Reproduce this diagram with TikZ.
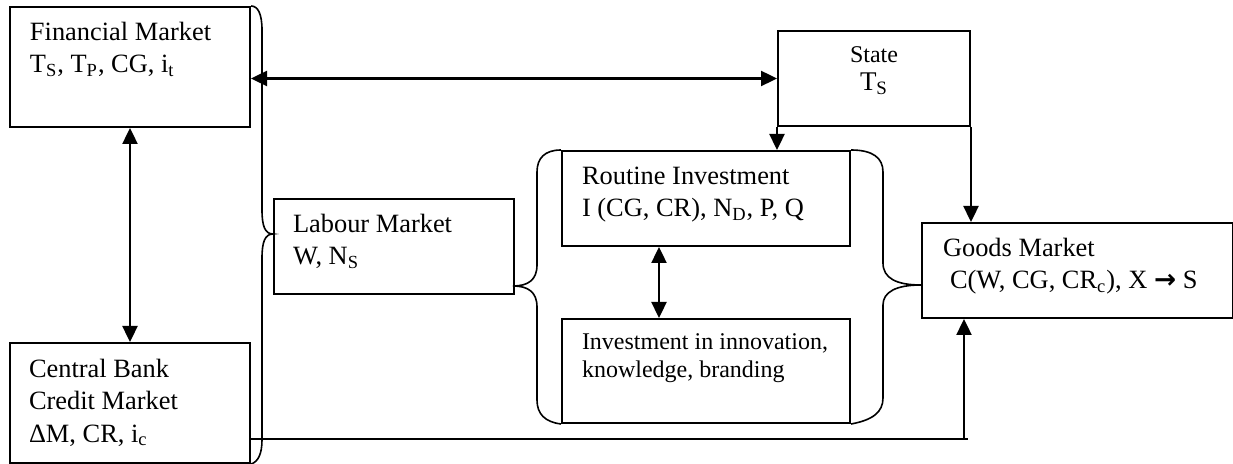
\documentclass[tikz,border=0pt]{standalone}
\usepackage{fontspec}
\setmainfont{Liberation Serif}
\newfontfamily\arrowfont{DejaVu Sans}
\usetikzlibrary{positioning,arrows.meta}

\newcommand{\bigfont}{\fontsize{13.2}{16.25}\selectfont}
\newcommand{\smallfont}{\fontsize{12}{14}\selectfont}

\tikzset{
	box/.style={draw, line width=1pt, inner sep=0pt, anchor=north west},
	txt/.style={inner sep=0pt, outer sep=0pt, align=left, font=\bigfont},
	arr/.style={line width=1.2pt, -{Triangle[length=8pt,width=7.5pt]}},
	dblarr/.style={line width=1.2pt, {Triangle[length=8pt,width=7.5pt]}-{Triangle[length=8pt,width=7.5pt]}},
	brace/.style={line width=0.8pt},
}

\begin{document}
\begin{tikzpicture}[x=0.5pt,y=-0.5pt]
	\useasboundingbox (0,0) rectangle (1233,464);
	% boxes
	\node[box, minimum width=120pt, minimum height=60pt] (fin) at (9,6) {};
	\node[box, minimum width=120pt, minimum height=60pt] (cb) at (9,342) {};
	\node[box, minimum width=120pt, minimum height=47.5pt] (lab) at (273,198) {};
	\node[box, minimum width=96pt, minimum height=47.5pt] (state) at (777,30) {};
	\node[box, minimum width=144pt, minimum height=47.5pt] (rout) at (561,150) {};
	\node[box, minimum width=144pt, minimum height=52pt] (innov) at (561,318) {};
	\node[box, minimum width=155.5pt, minimum height=47.5pt] (goods) at (921,222) {};
	% texts
	\node[txt, below right=8pt and 10.5pt of fin.north west] (fin-t)
		{Financial Market\\T\textsubscript{S}, T\textsubscript{P}, CG, i\textsubscript{t}};
	\node[txt, below right=8.5pt and 10pt of cb.north west] (cb-t)
		{Central Bank\\Credit Market\\ΔM, CR, i\textsubscript{c}};
	\node[txt, below right=8pt and 10pt of lab.north west] (lab-t)
		{Labour Market\\W, N\textsubscript{S}};
	\node[txt, align=center, font=\smallfont, below=8.2pt of state.north] (state-t)
		{State\\{\fontsize{13.5}{15}\selectfont T\textsubscript{S}}};
	\node[txt, below right=8.5pt and 10.5pt of rout.north west] (rout-t)
		{Routine Investment\\I (CG, CR), N\textsubscript{D}, P, Q};
	\node[txt, font=\smallfont, below right=7.7pt and 10.5pt of innov.north west] (innov-t)
		{Investment in innovation,\\knowledge, branding};
	\node[txt, below right=8pt and 11pt of goods.north west] (goods-t)
		{Goods Market\\\hspace*{3.5pt}C(W, CG, CR\textsubscript{c}), X {\arrowfont\bfseries →} S};
	% arrows
	\draw[dblarr] (state.west -| fin.east) -- (state.west);
	\draw[dblarr] (fin.south) -- (cb.north);
	\draw[arr] (state.south west) -- (state.south west |- rout.north);
	\draw[arr] (state.south east) -- (state.south east |- goods.north);
	\draw[dblarr] ([xshift=-23.5pt]rout.south) -- ([xshift=-23.5pt]innov.north);
	\coordinate (cbout) at ([yshift=-18pt]cb.east);
	\coordinate (gin) at ([xshift=21.5pt]goods.south west);
	\draw[line width=0.6pt] (cbout) -- ([xshift=2pt]cbout -| gin);
	\draw[arr] (cbout -| gin) -- (gin);
	% braces
	\draw[brace] (fin.north east) .. controls (258,6) and (262,14) .. (262,30) -- (262,210)
		.. controls (262,226) and (265,234) .. (273,234)
		.. controls (265,234) and (262,242) .. (262,258) -- (262,440)
		.. controls (262,454) and (258,462) .. (cb.south east);
	\draw[brace] (rout.north west) .. controls (545,150) and (537,158) .. (537,172) -- (537,265)
		.. controls (537,280) and (528,286) .. (513,286)
		.. controls (528,286) and (537,292) .. (537,307) -- (537,400)
		.. controls (537,414) and (545,422) .. (innov.south west);
	\draw[brace] (rout.north east) .. controls (873,150) and (883,158) .. (883,172) -- (883,263)
		.. controls (883,278) and (896,285) .. (921,285)
		.. controls (896,285) and (883,292) .. (883,305) -- (883,398)
		.. controls (883,412) and (873,420) .. (innov.south east);
\end{tikzpicture}
\end{document}
